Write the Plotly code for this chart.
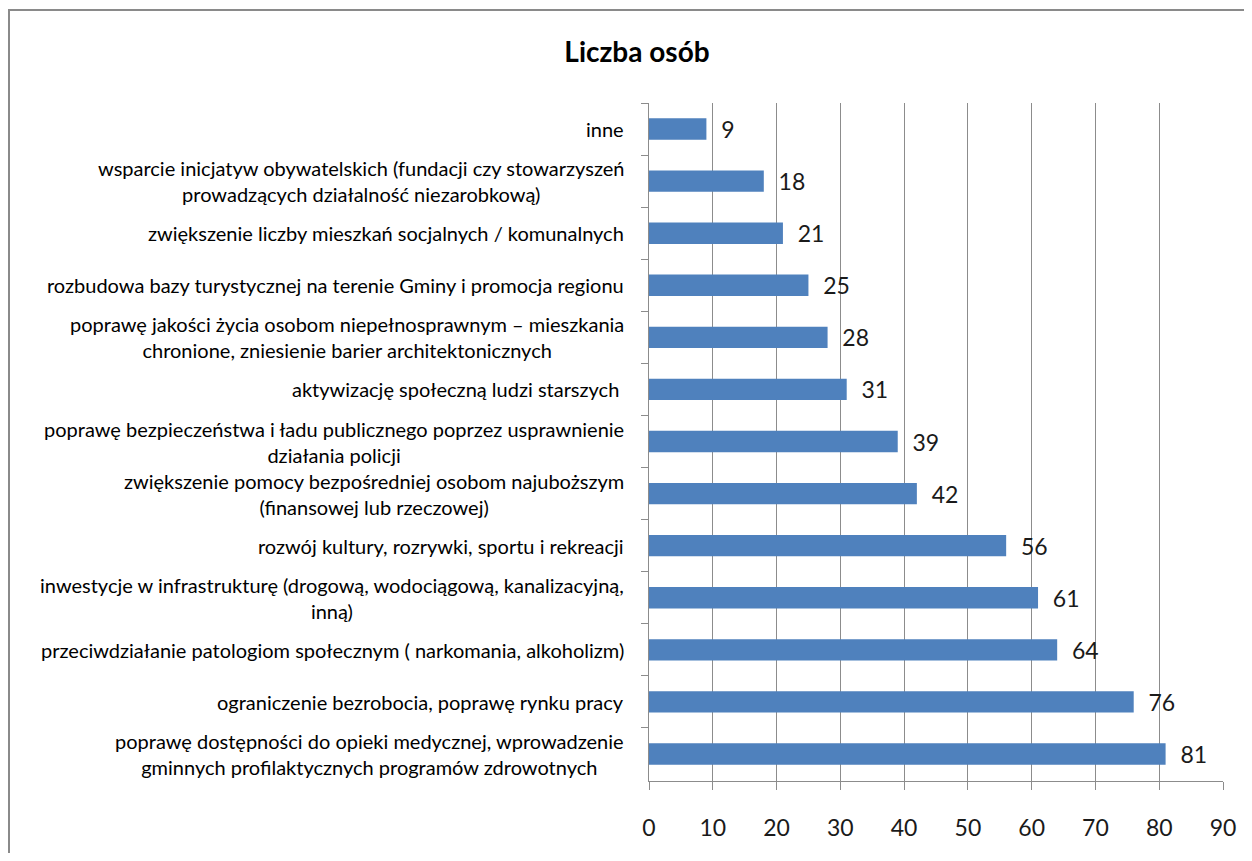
import plotly.graph_objects as go

categories = [
    "inne",
    "wsparcie inicjatyw obywatelskich (fundacji czy stowarzyszeń<br>prowadzących działalność niezarobkową)",
    "zwiększenie liczby mieszkań socjalnych / komunalnych",
    "rozbudowa bazy turystycznej na terenie Gminy i promocja regionu",
    "poprawę jakości życia osobom niepełnosprawnym – mieszkania<br>chronione, zniesienie barier architektonicznych",
    "aktywizację społeczną ludzi starszych ",
    "poprawę bezpieczeństwa i ładu publicznego poprzez usprawnienie<br>działania policji",
    "zwiększenie pomocy bezpośredniej osobom najuboższym<br>(finansowej lub rzeczowej)",
    "rozwój kultury, rozrywki, sportu i rekreacji",
    "inwestycje w infrastrukturę (drogową, wodociągową, kanalizacyjną,<br>inną)",
    "przeciwdziałanie patologiom społecznym ( narkomania, alkoholizm)",
    "ograniczenie bezrobocia, poprawę rynku pracy",
    "poprawę dostępności do opieki medycznej, wprowadzenie<br>gminnych profilaktycznych programów zdrowotnych",
]
values = [9, 18, 21, 25, 28, 31, 39, 42, 56, 61, 64, 76, 81]
x_ticks = [0, 10, 20, 30, 40, 50, 60, 70, 80, 90]
title_text = "Liczba osób"

FONT = "Lato, 'Liberation Sans', sans-serif"
GRID = "#8c8c8c"

W, H = 1244, 845
keys = [f"c{i}" for i in range(len(categories))]

fig = go.Figure(go.Bar(
    y=keys, x=values, orientation="h",
    marker=dict(color="#4F81BD", line=dict(width=0)),
    width=0.41,
    text=["\u00a0\u00a0" + str(v) for v in values], textposition="outside",
    constraintext="none",
    textfont=dict(family=FONT, size=23, color="#1a1a1a"),
    cliponaxis=False,
))

annotations = []
for k, lab in zip(keys, categories):
    annotations.append(dict(
        x=-0.04, xref="paper", y=k, yref="y", text=lab, showarrow=False,
        xanchor="right", yanchor="middle", align="center",
        font=dict(family=FONT, size=20, color="#000000"),
    ))

shapes = [dict(type="rect", xref="paper", yref="paper",
               x0=-1.1150, x1=1.2, y0=-0.3, y1=1.137,
               line=dict(color="#8a8a8a", width=2), layer="below")]

fig.update_layout(
    width=W, height=H,
    margin=dict(l=641, r=29, t=95, b=72),
    paper_bgcolor="white", plot_bgcolor="white",
    showlegend=False,
    title=dict(text=f"<b>{title_text}</b>", x=629/W, xanchor="center",
               y=1-44/H, yanchor="middle",
               font=dict(family=FONT, size=28, color="#000000")),
    annotations=annotations,
    shapes=shapes,
    xaxis=dict(range=[0, 90], tickvals=x_ticks, showgrid=True, gridcolor=GRID,
               gridwidth=1, zeroline=False, showline=True, linecolor=GRID,
               linewidth=1, ticks="outside", ticklen=8, tickcolor=GRID,
               ticklabelstandoff=18,
               tickfont=dict(family=FONT, size=23, color="#1a1a1a"),
               mirror=False),
    yaxis=dict(type="category", categoryorder="array", categoryarray=keys,
               autorange="reversed", showticklabels=False, showgrid=False,
               showline=True, linecolor=GRID, linewidth=1,
               ticks="outside", ticklen=7, tickcolor=GRID, tickson="boundaries",
               zeroline=False),
)

fig.write_html("out.html")
